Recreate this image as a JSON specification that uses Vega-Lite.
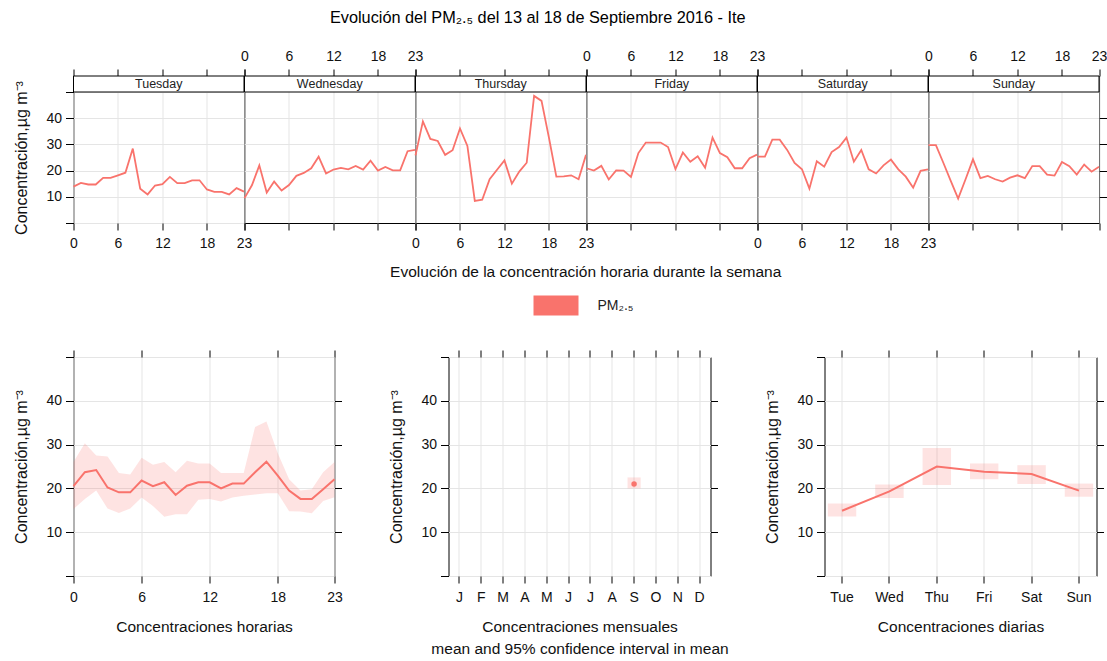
{
  "$schema": "https://vega.github.io/schema/vega-lite/v6.json",
  "padding": {"left": 12.5, "top": 10, "right": 2, "bottom": 2},
  "background": "white",
  "title": {"text": "Evolución del PM₂.₅ del 13 al 18 de Septiembre 2016 - Ite", "fontSize": 16.3, "fontWeight": "normal", "font": "Liberation Sans", "color": "#000", "anchor": "middle", "frame": "bounds", "offset": 22, "dx": -23},
  "datasets": {
    "week": [
      {"d":"Tue","h":0,"v":13.9},{"d":"Tue","h":1,"v":15.3},{"d":"Tue","h":2,"v":14.7},{"d":"Tue","h":3,"v":14.7},{"d":"Tue","h":4,"v":17.2},{"d":"Tue","h":5,"v":17.2},{"d":"Tue","h":6,"v":18.2},{"d":"Tue","h":7,"v":19.2},{"d":"Tue","h":8,"v":28.4},{"d":"Tue","h":9,"v":13.1},{"d":"Tue","h":10,"v":10.9},{"d":"Tue","h":11,"v":14.3},{"d":"Tue","h":12,"v":14.8},{"d":"Tue","h":13,"v":17.6},{"d":"Tue","h":14,"v":15.2},{"d":"Tue","h":15,"v":15.2},{"d":"Tue","h":16,"v":16.3},{"d":"Tue","h":17,"v":16.3},{"d":"Tue","h":18,"v":12.8},{"d":"Tue","h":19,"v":11.9},{"d":"Tue","h":20,"v":11.9},{"d":"Tue","h":21,"v":10.9},{"d":"Tue","h":22,"v":13.3},{"d":"Tue","h":23,"v":12.0},
      {"d":"Wed","h":0,"v":9.5},{"d":"Wed","h":1,"v":14.4},{"d":"Wed","h":2,"v":22.0},{"d":"Wed","h":3,"v":11.6},{"d":"Wed","h":4,"v":15.8},{"d":"Wed","h":5,"v":12.4},{"d":"Wed","h":6,"v":14.5},{"d":"Wed","h":7,"v":18.0},{"d":"Wed","h":8,"v":19.1},{"d":"Wed","h":9,"v":20.9},{"d":"Wed","h":10,"v":25.3},{"d":"Wed","h":11,"v":18.9},{"d":"Wed","h":12,"v":20.4},{"d":"Wed","h":13,"v":21.0},{"d":"Wed","h":14,"v":20.5},{"d":"Wed","h":15,"v":21.8},{"d":"Wed","h":16,"v":20.4},{"d":"Wed","h":17,"v":23.8},{"d":"Wed","h":18,"v":20.0},{"d":"Wed","h":19,"v":21.4},{"d":"Wed","h":20,"v":20.1},{"d":"Wed","h":21,"v":20.1},{"d":"Wed","h":22,"v":27.4},{"d":"Wed","h":23,"v":27.9},
      {"d":"Thu","h":0,"v":25.8},{"d":"Thu","h":1,"v":38.8},{"d":"Thu","h":2,"v":32.1},{"d":"Thu","h":3,"v":31.3},{"d":"Thu","h":4,"v":26.0},{"d":"Thu","h":5,"v":27.8},{"d":"Thu","h":6,"v":36.1},{"d":"Thu","h":7,"v":29.4},{"d":"Thu","h":8,"v":8.4},{"d":"Thu","h":9,"v":8.9},{"d":"Thu","h":10,"v":16.7},{"d":"Thu","h":11,"v":20.3},{"d":"Thu","h":12,"v":23.9},{"d":"Thu","h":13,"v":15.0},{"d":"Thu","h":14,"v":19.6},{"d":"Thu","h":15,"v":23.0},{"d":"Thu","h":16,"v":48.5},{"d":"Thu","h":17,"v":46.6},{"d":"Thu","h":18,"v":32.6},{"d":"Thu","h":19,"v":17.7},{"d":"Thu","h":20,"v":17.8},{"d":"Thu","h":21,"v":18.2},{"d":"Thu","h":22,"v":16.7},{"d":"Thu","h":23,"v":26.0},
      {"d":"Fri","h":0,"v":20.9},{"d":"Fri","h":1,"v":20.0},{"d":"Fri","h":2,"v":21.8},{"d":"Fri","h":3,"v":16.6},{"d":"Fri","h":4,"v":20.1},{"d":"Fri","h":5,"v":20.0},{"d":"Fri","h":6,"v":17.6},{"d":"Fri","h":7,"v":26.7},{"d":"Fri","h":8,"v":30.7},{"d":"Fri","h":9,"v":30.7},{"d":"Fri","h":10,"v":30.7},{"d":"Fri","h":11,"v":29.0},{"d":"Fri","h":12,"v":20.6},{"d":"Fri","h":13,"v":26.9},{"d":"Fri","h":14,"v":23.4},{"d":"Fri","h":15,"v":25.5},{"d":"Fri","h":16,"v":21.1},{"d":"Fri","h":17,"v":32.6},{"d":"Fri","h":18,"v":26.7},{"d":"Fri","h":19,"v":25.1},{"d":"Fri","h":20,"v":20.9},{"d":"Fri","h":21,"v":20.9},{"d":"Fri","h":22,"v":24.7},{"d":"Fri","h":23,"v":26.1},
      {"d":"Sat","h":0,"v":25.3},{"d":"Sat","h":1,"v":25.3},{"d":"Sat","h":2,"v":31.8},{"d":"Sat","h":3,"v":31.8},{"d":"Sat","h":4,"v":27.9},{"d":"Sat","h":5,"v":22.9},{"d":"Sat","h":6,"v":20.5},{"d":"Sat","h":7,"v":13.1},{"d":"Sat","h":8,"v":23.6},{"d":"Sat","h":9,"v":21.5},{"d":"Sat","h":10,"v":27.1},{"d":"Sat","h":11,"v":29.0},{"d":"Sat","h":12,"v":32.6},{"d":"Sat","h":13,"v":23.4},{"d":"Sat","h":14,"v":27.9},{"d":"Sat","h":15,"v":20.5},{"d":"Sat","h":16,"v":18.9},{"d":"Sat","h":17,"v":22.0},{"d":"Sat","h":18,"v":24.2},{"d":"Sat","h":19,"v":20.5},{"d":"Sat","h":20,"v":17.7},{"d":"Sat","h":21,"v":13.5},{"d":"Sat","h":22,"v":19.9},{"d":"Sat","h":23,"v":20.5},
      {"d":"Sun","h":0,"v":29.7},{"d":"Sun","h":1,"v":29.7},{"d":"Sun","h":2,"v":23.0},{"d":"Sun","h":3,"v":16.1},{"d":"Sun","h":4,"v":9.3},{"d":"Sun","h":5,"v":16.7},{"d":"Sun","h":6,"v":24.3},{"d":"Sun","h":7,"v":17.1},{"d":"Sun","h":8,"v":18.0},{"d":"Sun","h":9,"v":16.7},{"d":"Sun","h":10,"v":15.8},{"d":"Sun","h":11,"v":17.3},{"d":"Sun","h":12,"v":18.2},{"d":"Sun","h":13,"v":17.1},{"d":"Sun","h":14,"v":21.7},{"d":"Sun","h":15,"v":21.7},{"d":"Sun","h":16,"v":18.5},{"d":"Sun","h":17,"v":18.1},{"d":"Sun","h":18,"v":23.3},{"d":"Sun","h":19,"v":21.7},{"d":"Sun","h":20,"v":18.5},{"d":"Sun","h":21,"v":22.3},{"d":"Sun","h":22,"v":19.6},{"d":"Sun","h":23,"v":21.5}
    ],
    "hourly": [
      {"h":0,"m":20.5,"lo":15.3,"hi":26.0},{"h":1,"m":23.7,"lo":17.6,"hi":30.3},{"h":2,"m":24.2,"lo":19.5,"hi":27.5},{"h":3,"m":20.2,"lo":15.4,"hi":27.3},{"h":4,"m":19.1,"lo":14.4,"hi":23.5},{"h":5,"m":19.1,"lo":15.4,"hi":23.2},{"h":6,"m":21.8,"lo":17.9,"hi":27.0},{"h":7,"m":20.5,"lo":16.0,"hi":25.4},{"h":8,"m":21.4,"lo":13.5,"hi":26.0},{"h":9,"m":18.5,"lo":14.1,"hi":23.7},{"h":10,"m":20.6,"lo":14.1,"hi":26.3},{"h":11,"m":21.4,"lo":17.4,"hi":25.7},{"h":12,"m":21.4,"lo":17.6,"hi":25.7},{"h":13,"m":20.0,"lo":17.0,"hi":23.5},{"h":14,"m":21.1,"lo":17.9,"hi":23.5},{"h":15,"m":21.1,"lo":18.3,"hi":23.5},{"h":16,"m":23.7,"lo":18.6,"hi":34.0},{"h":17,"m":26.1,"lo":18.9,"hi":35.3},{"h":18,"m":22.9,"lo":18.9,"hi":28.0},{"h":19,"m":19.5,"lo":14.8,"hi":22.1},{"h":20,"m":17.6,"lo":14.7,"hi":19.5},{"h":21,"m":17.6,"lo":14.3,"hi":19.8},{"h":22,"m":19.8,"lo":17.1,"hi":23.7},{"h":23,"m":22.1,"lo":18.0,"hi":26.0}
    ],
    "monthly": [{"month":9,"m":21.0,"lo":20.0,"hi":22.5}],
    "daily": [
      {"day":"Tue","m":14.9,"lo":13.6,"hi":16.55},{"day":"Wed","m":19.3,"lo":17.8,"hi":20.9},{"day":"Thu","m":25.0,"lo":20.8,"hi":29.2},{"day":"Fri","m":23.8,"lo":22.1,"hi":25.7},{"day":"Sat","m":23.3,"lo":21.0,"hi":25.3},{"day":"Sun","m":19.5,"lo":18.1,"hi":21.1}
    ]
  },
  "config": {
    "font": "Liberation Sans",
    "view": {"stroke": "#000", "strokeWidth": 1},
    "axis": {"domain": false, "gridColor": "#E5E5E5", "gridWidth": 1, "tickColor": "#000", "tickSize": 7, "tickWidth": 1, "labelFont": "Liberation Sans", "labelFontSize": 14, "labelColor": "#111", "labelPadding": 4, "labelFlush": false, "labelOverlap": false, "titleFont": "Liberation Sans", "titleFontSize": 15.5, "titleFontWeight": "normal", "titleColor": "#111"},
    "axisX": {"labelAngle": 0, "labelPadding": 7, "titlePadding": 15},
    "axisY": {"titleFontSize": 16, "titlePadding": 16}
  },
  "spacing": 69,
  "vconcat": [
    {
      "title": {"text": "Evolución de la concentración horaria durante la semana", "orient": "bottom", "anchor": "middle", "frame": "bounds", "dx": 25, "fontSize": 15.5, "fontWeight": "normal", "font": "Liberation Sans", "color": "#111", "offset": 14},
      "bounds": "flush",
      "spacing": 0,
      "hconcat": [
        {"width": 170.5, "height": 147, "resolve": {"axis": {"x": "independent", "y": "independent"}},
         "layer": [
           {"data": {"name": "week"}, "transform": [{"filter": "datum.d == 'Tue'"}], "mark": {"type": "line", "color": "#F9736C", "strokeWidth": 1.8},
            "encoding": {
              "x": {"field": "h", "type": "quantitative", "scale": {"domain": [0, 23], "nice": false, "zero": false}, "axis": {"orient": "bottom", "values": [0, 6, 12, 18, 23], "labels": true, "labelPadding": 6, "title": null}},
              "y": {"field": "v", "type": "quantitative", "scale": {"domain": [0, 56.11], "nice": false, "zero": false}, "axis": {"orient": "left", "values": [0, 10, 20, 30, 40, 50], "labelExpr": "datum.value == 0 || datum.value == 50 ? '' : datum.label", "tickSize": 8, "title": "Concentración,µg m⁻³", "titleY": 81.5}},
              "color": {"datum": "PM₂.₅", "scale": {"range": ["#F9736C"]}, "legend": {"orient": "none", "legendX": 460, "legendY": 207, "title": null, "symbolType": "M-1,-0.44H1V0.44H-1Z", "symbolSize": 2025, "symbolStrokeWidth": 0, "labelFontSize": 14, "labelFont": "Liberation Sans", "labelColor": "#222", "labelOffset": 19, "encode": {"symbols": {"update": {"fill": {"value": "#F9736C"}, "stroke": {"value": "transparent"}, "opacity": {"value": 1}}}}}}
            }},
           {"data": {"values": [{"lab": "Tuesday"}]}, "mark": {"type": "rect", "fill": "white", "stroke": "#000", "strokeWidth": 1},
            "encoding": {"y": {"datum": 50, "type": "quantitative", "axis": null}, "y2": {"datum": 56.11}}},
           {"data": {"values": [{"lab": "Tuesday"}]}, "mark": {"type": "text", "fontSize": 12.5, "color": "#222", "baseline": "middle"},
            "encoding": {"text": {"field": "lab"}, "x": {"datum": 11.5, "type": "quantitative", "axis": {"orient": "top", "values": [0, 6, 12, 18, 23], "labels": false, "grid": false, "labelPadding": 6, "title": null}}, "y": {"datum": 53.05, "type": "quantitative", "axis": null}}}
         ]},
        {"width": 170.5, "height": 147, "resolve": {"axis": {"x": "independent", "y": "independent"}},
         "layer": [
           {"data": {"name": "week"}, "transform": [{"filter": "datum.d == 'Wed'"}], "mark": {"type": "line", "color": "#F9736C", "strokeWidth": 1.8},
            "encoding": {
              "x": {"field": "h", "type": "quantitative", "scale": {"domain": [0, 23], "nice": false, "zero": false}, "axis": {"orient": "bottom", "values": [0, 6, 12, 18, 23], "labels": false, "title": null}},
              "y": {"field": "v", "type": "quantitative", "scale": {"domain": [0, 56.11], "nice": false, "zero": false}, "axis": {"orient": "left", "values": [10, 20, 30, 40], "labels": false, "ticks": false, "title": null}}
            }},
           {"data": {"values": [{"lab": "Wednesday"}]}, "mark": {"type": "rect", "fill": "white", "stroke": "#000", "strokeWidth": 1},
            "encoding": {"y": {"datum": 50, "type": "quantitative", "axis": null}, "y2": {"datum": 56.11}}},
           {"data": {"values": [{"lab": "Wednesday"}]}, "mark": {"type": "text", "fontSize": 12.5, "color": "#222", "baseline": "middle"},
            "encoding": {"text": {"field": "lab"}, "x": {"datum": 11.5, "type": "quantitative", "axis": {"orient": "top", "values": [0, 6, 12, 18, 23], "labels": true, "grid": false, "labelPadding": 6, "title": null}}, "y": {"datum": 53.05, "type": "quantitative", "axis": null}}}
         ]},
        {"width": 170.5, "height": 147, "resolve": {"axis": {"x": "independent", "y": "independent"}},
         "layer": [
           {"data": {"name": "week"}, "transform": [{"filter": "datum.d == 'Thu'"}], "mark": {"type": "line", "color": "#F9736C", "strokeWidth": 1.8},
            "encoding": {
              "x": {"field": "h", "type": "quantitative", "scale": {"domain": [0, 23], "nice": false, "zero": false}, "axis": {"orient": "bottom", "values": [0, 6, 12, 18, 23], "labels": true, "labelPadding": 6, "title": null}},
              "y": {"field": "v", "type": "quantitative", "scale": {"domain": [0, 56.11], "nice": false, "zero": false}, "axis": {"orient": "left", "values": [10, 20, 30, 40], "labels": false, "ticks": false, "title": null}}
            }},
           {"data": {"values": [{"lab": "Thursday"}]}, "mark": {"type": "rect", "fill": "white", "stroke": "#000", "strokeWidth": 1},
            "encoding": {"y": {"datum": 50, "type": "quantitative", "axis": null}, "y2": {"datum": 56.11}}},
           {"data": {"values": [{"lab": "Thursday"}]}, "mark": {"type": "text", "fontSize": 12.5, "color": "#222", "baseline": "middle"},
            "encoding": {"text": {"field": "lab"}, "x": {"datum": 11.5, "type": "quantitative", "axis": {"orient": "top", "values": [0, 6, 12, 18, 23], "labels": false, "grid": false, "title": null}}, "y": {"datum": 53.05, "type": "quantitative", "axis": null}}}
         ]},
        {"width": 170.5, "height": 147, "resolve": {"axis": {"x": "independent", "y": "independent"}},
         "layer": [
           {"data": {"name": "week"}, "transform": [{"filter": "datum.d == 'Fri'"}], "mark": {"type": "line", "color": "#F9736C", "strokeWidth": 1.8},
            "encoding": {
              "x": {"field": "h", "type": "quantitative", "scale": {"domain": [0, 23], "nice": false, "zero": false}, "axis": {"orient": "bottom", "values": [0, 6, 12, 18, 23], "labels": false, "title": null}},
              "y": {"field": "v", "type": "quantitative", "scale": {"domain": [0, 56.11], "nice": false, "zero": false}, "axis": {"orient": "left", "values": [10, 20, 30, 40], "labels": false, "ticks": false, "title": null}}
            }},
           {"data": {"values": [{"lab": "Friday"}]}, "mark": {"type": "rect", "fill": "white", "stroke": "#000", "strokeWidth": 1},
            "encoding": {"y": {"datum": 50, "type": "quantitative", "axis": null}, "y2": {"datum": 56.11}}},
           {"data": {"values": [{"lab": "Friday"}]}, "mark": {"type": "text", "fontSize": 12.5, "color": "#222", "baseline": "middle"},
            "encoding": {"text": {"field": "lab"}, "x": {"datum": 11.5, "type": "quantitative", "axis": {"orient": "top", "values": [0, 6, 12, 18, 23], "labels": true, "grid": false, "labelPadding": 6, "title": null}}, "y": {"datum": 53.05, "type": "quantitative", "axis": null}}}
         ]},
        {"width": 170.5, "height": 147, "resolve": {"axis": {"x": "independent", "y": "independent"}},
         "layer": [
           {"data": {"name": "week"}, "transform": [{"filter": "datum.d == 'Sat'"}], "mark": {"type": "line", "color": "#F9736C", "strokeWidth": 1.8},
            "encoding": {
              "x": {"field": "h", "type": "quantitative", "scale": {"domain": [0, 23], "nice": false, "zero": false}, "axis": {"orient": "bottom", "values": [0, 6, 12, 18, 23], "labels": true, "labelPadding": 6, "title": null}},
              "y": {"field": "v", "type": "quantitative", "scale": {"domain": [0, 56.11], "nice": false, "zero": false}, "axis": {"orient": "left", "values": [10, 20, 30, 40], "labels": false, "ticks": false, "title": null}}
            }},
           {"data": {"values": [{"lab": "Saturday"}]}, "mark": {"type": "rect", "fill": "white", "stroke": "#000", "strokeWidth": 1},
            "encoding": {"y": {"datum": 50, "type": "quantitative", "axis": null}, "y2": {"datum": 56.11}}},
           {"data": {"values": [{"lab": "Saturday"}]}, "mark": {"type": "text", "fontSize": 12.5, "color": "#222", "baseline": "middle"},
            "encoding": {"text": {"field": "lab"}, "x": {"datum": 11.5, "type": "quantitative", "axis": {"orient": "top", "values": [0, 6, 12, 18, 23], "labels": false, "grid": false, "title": null}}, "y": {"datum": 53.05, "type": "quantitative", "axis": null}}}
         ]},
        {"width": 170.5, "height": 147, "resolve": {"axis": {"x": "independent", "y": "independent"}},
         "layer": [
           {"data": {"name": "week"}, "transform": [{"filter": "datum.d == 'Sun'"}], "mark": {"type": "line", "color": "#F9736C", "strokeWidth": 1.8},
            "encoding": {
              "x": {"field": "h", "type": "quantitative", "scale": {"domain": [0, 23], "nice": false, "zero": false}, "axis": {"orient": "bottom", "values": [0, 6, 12, 18, 23], "labels": false, "title": null}},
              "y": {"field": "v", "type": "quantitative", "scale": {"domain": [0, 56.11], "nice": false, "zero": false}, "axis": {"orient": "right", "values": [10, 20, 30, 40], "labels": false, "tickSize": 8, "title": null}}
            }},
           {"data": {"values": [{"lab": "Sunday"}]}, "mark": {"type": "rect", "fill": "white", "stroke": "#000", "strokeWidth": 1},
            "encoding": {"y": {"datum": 50, "type": "quantitative", "axis": null}, "y2": {"datum": 56.11}}},
           {"data": {"values": [{"lab": "Sunday"}]}, "mark": {"type": "text", "fontSize": 12.5, "color": "#222", "baseline": "middle"},
            "encoding": {"text": {"field": "lab"}, "x": {"datum": 11.5, "type": "quantitative", "axis": {"orient": "top", "values": [0, 6, 12, 18, 23], "labels": true, "grid": false, "labelPadding": 6, "title": null}}, "y": {"datum": 53.05, "type": "quantitative", "axis": null}}}
         ]}
      ]
    },
    {
      "bounds": "flush",
      "spacing": 114,
      "hconcat": [
        {
          "width": 261, "height": 219,
          "data": {"name": "hourly"},
          "resolve": {"axis": {"x": "independent", "y": "independent"}},
          "layer": [
            {"mark": {"type": "area", "color": "#F9736C", "opacity": 0.2},
             "encoding": {
               "x": {"field": "h", "type": "quantitative", "scale": {"domain": [0, 23], "nice": false, "zero": false}, "axis": {"orient": "bottom", "values": [0, 6, 12, 18, 23], "title": "Concentraciones horarias"}},
               "y": {"field": "lo", "type": "quantitative", "scale": {"domain": [0, 50], "nice": false, "zero": false}, "axis": {"orient": "left", "values": [0, 10, 20, 30, 40, 50], "labelExpr": "datum.value == 0 || datum.value == 50 ? '' : datum.label", "tickSize": 8, "title": "Concentración,µg m⁻³"}},
               "y2": {"field": "hi"}
             }},
            {"mark": {"type": "line", "color": "#F9736C", "strokeWidth": 2},
             "encoding": {
               "x": {"field": "h", "type": "quantitative", "scale": {"domain": [0, 23], "nice": false, "zero": false}, "axis": {"orient": "top", "values": [0, 6, 12, 18, 23], "labels": false, "grid": false, "title": null}},
               "y": {"field": "m", "type": "quantitative", "scale": {"domain": [0, 50], "nice": false, "zero": false}, "axis": {"orient": "right", "values": [10, 20, 30, 40], "labels": false, "grid": false, "title": null}}
             }}
          ]
        },
        {
          "width": 262, "height": 219,
          "data": {"name": "monthly"},
          "resolve": {"axis": {"x": "independent", "y": "independent"}},
          "layer": [
            {"mark": {"type": "bar", "color": "#F9736C", "opacity": 0.2},
             "encoding": {
               "x": {"field": "month", "type": "ordinal", "scale": {"type": "band", "domain": [1, 2, 3, 4, 5, 6, 7, 8, 9, 10, 11, 12], "paddingInner": 0.4, "paddingOuter": 0.2}, "axis": {"orient": "bottom", "grid": true, "bandPosition": 0.5, "labelExpr": "['J','F','M','A','M','J','J','A','S','O','N','D'][datum.value - 1]", "title": ["Concentraciones mensuales", "mean and 95% confidence interval in mean"], "titleLineHeight": 22}},
               "y": {"field": "lo", "type": "quantitative", "scale": {"domain": [0, 50], "nice": false, "zero": false}, "axis": {"orient": "left", "values": [0, 10, 20, 30, 40, 50], "labelExpr": "datum.value == 0 || datum.value == 50 ? '' : datum.label", "tickSize": 8, "title": "Concentración,µg m⁻³"}},
               "y2": {"field": "hi"}
             }},
            {"mark": {"type": "point", "filled": true, "size": 30, "color": "#F9736C", "opacity": 1},
             "encoding": {
               "x": {"field": "month", "type": "ordinal", "scale": {"type": "band", "domain": [1, 2, 3, 4, 5, 6, 7, 8, 9, 10, 11, 12]}, "axis": {"orient": "top", "bandPosition": 0.5, "labels": false, "grid": false, "title": null}},
               "y": {"field": "m", "type": "quantitative", "scale": {"domain": [0, 50], "nice": false, "zero": false}, "axis": {"orient": "right", "values": [10, 20, 30, 40], "labels": false, "grid": false, "title": null}}
             }}
          ]
        },
        {
          "width": 272, "height": 219,
          "data": {"name": "daily"},
          "resolve": {"axis": {"x": "independent", "y": "independent"}},
          "layer": [
            {"mark": {"type": "bar", "color": "#F9736C", "opacity": 0.2},
             "encoding": {
               "x": {"field": "day", "type": "ordinal", "sort": null, "scale": {"type": "band", "domain": ["Tue", "Wed", "Thu", "Fri", "Sat", "Sun"], "paddingInner": 0.4, "paddingOuter": 0.07}, "axis": {"orient": "bottom", "grid": true, "bandPosition": 0.5, "title": "Concentraciones diarias"}},
               "y": {"field": "lo", "type": "quantitative", "scale": {"domain": [0, 50], "nice": false, "zero": false}, "axis": {"orient": "left", "values": [0, 10, 20, 30, 40, 50], "labelExpr": "datum.value == 0 || datum.value == 50 ? '' : datum.label", "tickSize": 8, "title": "Concentración,µg m⁻³"}},
               "y2": {"field": "hi"}
             }},
            {"mark": {"type": "line", "color": "#F9736C", "strokeWidth": 2},
             "encoding": {
               "x": {"field": "day", "type": "ordinal", "sort": null, "scale": {"type": "band", "domain": ["Tue", "Wed", "Thu", "Fri", "Sat", "Sun"]}, "axis": {"orient": "top", "bandPosition": 0.5, "labels": false, "grid": false, "title": null}},
               "y": {"field": "m", "type": "quantitative", "scale": {"domain": [0, 50], "nice": false, "zero": false}, "axis": {"orient": "right", "values": [10, 20, 30, 40], "labels": false, "grid": false, "title": null}}
             }}
          ]
        }
      ]
    }
  ]
}
